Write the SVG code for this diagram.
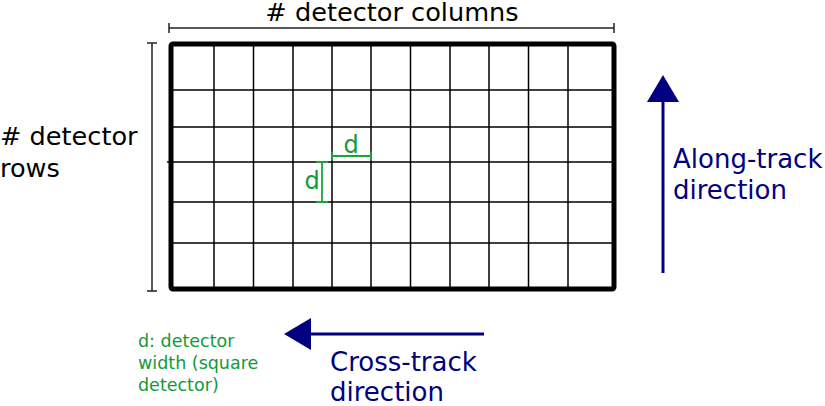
<svg xmlns="http://www.w3.org/2000/svg" width="825" height="406" viewBox="0 0 825 406">
<style>
.grid{stroke:#000;stroke-width:1.5;fill:none}
.frame{stroke:#000;stroke-width:5;fill:none;stroke-linejoin:round}
.dim{stroke:#222;stroke-width:1.5;fill:none}
.gd{stroke:#1aa33a;stroke-width:1.8;fill:none}
.t{font-family:"DejaVu Sans",sans-serif;font-size:25.6px;fill:#000}
.nav{font-family:"DejaVu Sans",sans-serif;font-size:26px;fill:#000080}
.gt{font-family:"DejaVu Sans",sans-serif;font-size:17.5px;fill:#119a38}
.gl{font-family:"DejaVu Sans",sans-serif;font-size:24px;fill:#119a38}
.arr{stroke:#000080;stroke-width:3;fill:none}
</style>
<rect width="825" height="406" fill="#fff"/>
<g id="detector-grid">
<path class="grid" d="M214,44V289M253.5,44V289M293,44V289M332,44V289M371,44V289M410.5,44V289M450,44V289M489,44V289M528.5,44V289M568,44V289M171,90H614M171,127H614M167,162H614M171,202H614M171,243H614"/>
<rect class="frame" x="171" y="44" width="443" height="245" rx="2"/>
</g>
<g id="columns-dimension">
<path class="dim" d="M169,28H614M169,23V33M614,23V33"/>
<text class="t" x="392" y="21" text-anchor="middle"># detector columns</text>
</g>
<g id="rows-dimension">
<path class="dim" d="M152,43V291M147,43H157M147,291H157"/>
<text class="t" x="0" y="145"># detector</text>
<text class="t" x="0" y="177">rows</text>
</g>
<g id="d-markers">
<path class="gd" d="M332,156H371M332,151.5V160.5M371,151.5V160.5"/>
<text class="gl" x="351" y="153" text-anchor="middle">d</text>
<path class="gd" d="M322,162V202M316,162H328M316,202H328"/>
<text class="gl" x="312" y="189" text-anchor="middle">d</text>
</g>
<g id="legend">
<text class="gt" x="138" y="347">d: detector</text>
<text class="gt" x="138" y="369">width (square</text>
<text class="gt" x="138" y="391">detector)</text>
</g>
<g id="connectors">
<g id="along-track-arrow">
<path class="arr" d="M663,273V100"/>
<polygon points="663,75 647,102 679,102" fill="#000080"/>
</g>
<g id="cross-track-arrow">
<path class="arr" d="M484,334H308"/>
<polygon points="284,334 311,318 311,350" fill="#000080"/>
</g>
</g>
<g id="along-track-label">
<text class="nav" x="673" y="168">Along-track</text>
<text class="nav" x="673" y="199">direction</text>
</g>
<g id="cross-track-label">
<text class="nav" x="330" y="371">Cross-track</text>
<text class="nav" x="330" y="401">direction</text>
</g>
</svg>
